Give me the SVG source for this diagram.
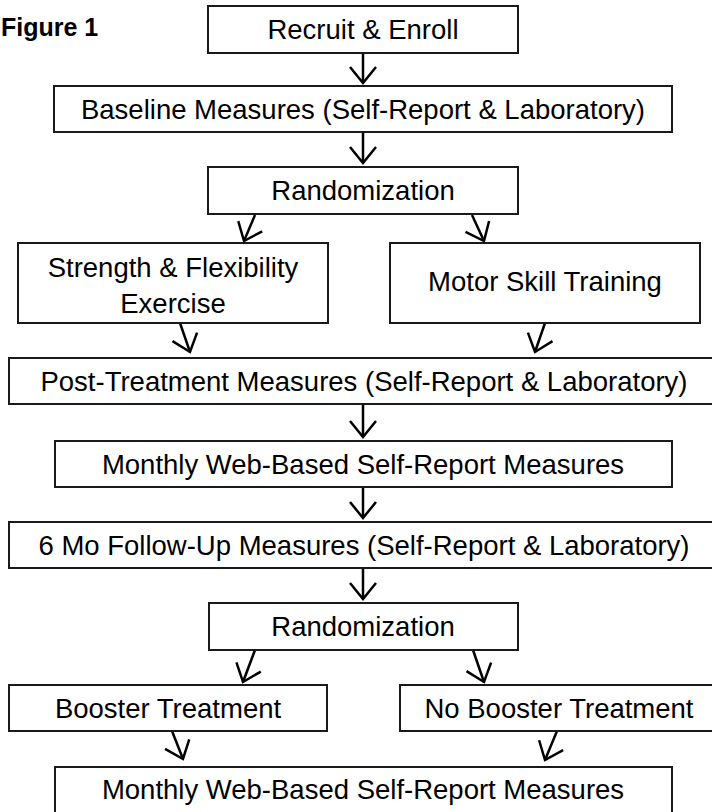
<svg xmlns="http://www.w3.org/2000/svg" width="712" height="812" viewBox="0 0 712 812">
<style>
.box{fill:#fff;stroke:#1a1a1a;stroke-width:2}
.t{font-family:"Liberation Sans",Arial,sans-serif;font-size:27.5px;fill:#000;text-anchor:middle}
.c{fill:none;stroke:#000;stroke-width:2.5}
</style>
<defs>
<marker id="ah" markerUnits="userSpaceOnUse" markerWidth="40" markerHeight="40" refX="0" refY="0" viewBox="-20 -20 40 40" orient="auto" overflow="visible">
<path d="M-16,-13 L0,0 L-16,13" fill="none" stroke="#000" stroke-width="2.5" stroke-linejoin="miter"/>
</marker>
</defs>
<rect width="712" height="812" fill="#fff"/>
<text x="1" y="36" style="font-family:'Liberation Sans',Arial,sans-serif;font-size:25px;font-weight:bold">Figure 1</text>
<g id="connectors">
<line class="c" x1="363" y1="53" x2="363" y2="83" marker-end="url(#ah)"/>
<line class="c" x1="363" y1="132" x2="363" y2="163" marker-end="url(#ah)"/>
<line class="c" x1="255" y1="215" x2="244" y2="241" marker-end="url(#ah)"/>
<line class="c" x1="472" y1="215" x2="484" y2="241" marker-end="url(#ah)"/>
<line class="c" x1="180" y1="323" x2="190" y2="352" marker-end="url(#ah)"/>
<line class="c" x1="545" y1="323" x2="535" y2="352" marker-end="url(#ah)"/>
<line class="c" x1="363" y1="404" x2="363" y2="437" marker-end="url(#ah)"/>
<line class="c" x1="363" y1="487" x2="363" y2="518" marker-end="url(#ah)"/>
<line class="c" x1="363" y1="568" x2="363" y2="599" marker-end="url(#ah)"/>
<line class="c" x1="255" y1="650" x2="243" y2="682" marker-end="url(#ah)"/>
<line class="c" x1="473" y1="650" x2="484" y2="682" marker-end="url(#ah)"/>
<line class="c" x1="172" y1="731" x2="183" y2="759" marker-end="url(#ah)"/>
<line class="c" x1="557" y1="731" x2="545" y2="760" marker-end="url(#ah)"/>
</g>
<g id="recruit"><rect class="box" x="208" y="6" width="310" height="47"/><text class="t" x="363" y="39">Recruit &amp; Enroll</text></g>
<g id="baseline"><rect class="box" x="54" y="86" width="618" height="46"/><text class="t" x="363" y="118.5">Baseline Measures (Self-Report &amp; Laboratory)</text></g>
<g id="randomization1"><rect class="box" x="208" y="167" width="310" height="47"/><text class="t" x="363" y="200">Randomization</text></g>
<g id="strength"><rect class="box" x="18" y="243" width="310" height="80"/><text class="t" x="173" y="277">Strength &amp; Flexibility</text><text class="t" x="173" y="313">Exercise</text></g>
<g id="motor"><rect class="box" x="390" y="243" width="310" height="80"/><text class="t" x="545" y="291">Motor Skill Training</text></g>
<g id="post"><rect class="box" x="9" y="358" width="710" height="46"/><text class="t" x="364" y="390.5">Post-Treatment Measures (Self-Report &amp; Laboratory)</text></g>
<g id="monthly1"><rect class="box" x="55" y="441" width="617" height="46"/><text class="t" x="363" y="473.5">Monthly Web-Based Self-Report Measures</text></g>
<g id="followup"><rect class="box" x="9" y="522" width="710" height="46"/><text class="t" x="364" y="554.5">6 Mo Follow-Up Measures (Self-Report &amp; Laboratory)</text></g>
<g id="randomization2"><rect class="box" x="209" y="603" width="309" height="47"/><text class="t" x="363" y="636">Randomization</text></g>
<g id="booster"><rect class="box" x="9" y="685" width="318" height="46"/><text class="t" x="168" y="717.5">Booster Treatment</text></g>
<g id="nobooster"><rect class="box" x="400" y="685" width="319" height="46"/><text class="t" x="559" y="717.5">No Booster Treatment</text></g>
<g id="monthly2"><rect class="box" x="55" y="767" width="617" height="46"/><text class="t" x="363" y="798.5">Monthly Web-Based Self-Report Measures</text></g>
</svg>
